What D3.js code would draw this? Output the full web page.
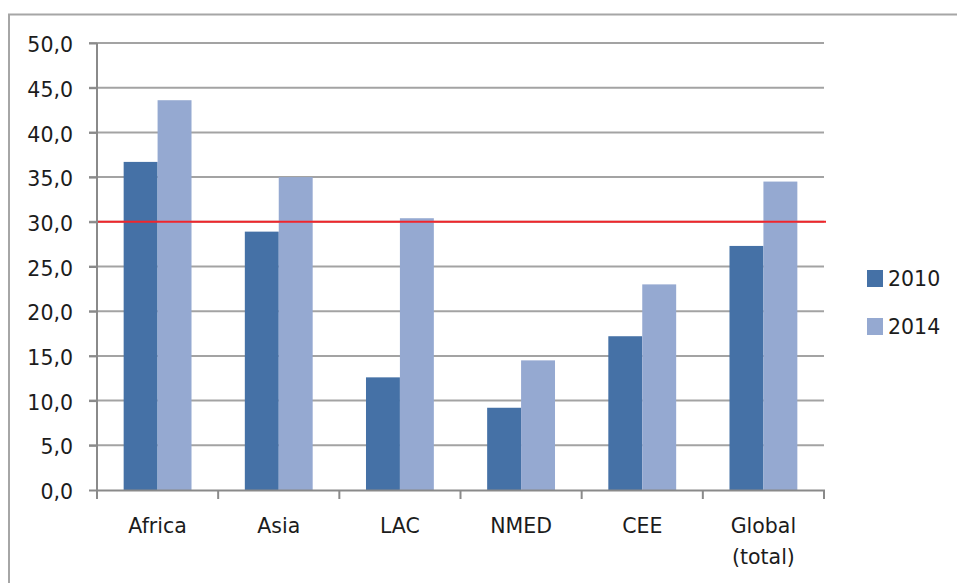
<!DOCTYPE html>
<html>
<head>
<meta charset="utf-8">
<script src="https://cdn.jsdelivr.net/npm/d3@7"></script>
<style>
  body { margin: 0; background: #fff; }
  svg { display: block; font-family: "DejaVu Sans", Verdana, sans-serif; }
</style>
</head>
<body>
<svg id="chart" width="957" height="583"></svg>
<script>
/* DATA */
var categories = ['Africa', 'Asia', 'LAC', 'NMED', 'CEE', 'Global (total)'];
var series = ['2010', '2014'];
var values2010 = [36.7, 28.9, 12.6, 9.2, 17.2, 27.3];
var values2014 = [43.6, 35.0, 30.4, 14.5, 23.0, 34.5];
var yTicks = [0, 5, 10, 15, 20, 25, 30, 35, 40, 45, 50];
var threshold = 30;

var colors = { '2010': '#4571a6', '2014': '#95a9d1' };
var textColor = '#1c1c1c';
var gridColor = '#a3a3a3';
var fontSize = '20.5px';

var svg = d3.select('#chart');

/* OUTER FRAME (top and left edges visible) */
svg.append('path')
  .attr('d', 'M9,583 V14.5 H957')
  .attr('fill', 'none')
  .attr('stroke', '#a6a6a6')
  .attr('stroke-width', 2);

/* SCALES */
var y = d3.scaleLinear().domain([0, 50]).range([490, 43]);
var x = d3.scaleBand().domain(categories).range([97, 824]);
var x1 = d3.scaleBand().domain(series)
  .range([x.bandwidth() * 0.22, x.bandwidth() * 0.78]);

/* GRIDLINES */
svg.append('g').selectAll('line')
  .data(yTicks.filter(function(d) { return d > 0; }))
  .enter().append('line')
  .attr('x1', 89).attr('x2', 824)
  .attr('y1', function(d) { return y(d); })
  .attr('y2', function(d) { return y(d); })
  .attr('stroke', gridColor)
  .attr('stroke-width', 2);

/* BARS */
var rows = categories.map(function(c, i) {
  return { cat: c, vals: [{ s: '2010', v: values2010[i] }, { s: '2014', v: values2014[i] }] };
});
svg.append('g').selectAll('g')
  .data(rows).enter().append('g')
  .attr('transform', function(d) { return 'translate(' + x(d.cat) + ',0)'; })
  .selectAll('rect')
  .data(function(d) { return d.vals; })
  .enter().append('rect')
  .attr('x', function(d) { return x1(d.s); })
  .attr('width', x1.bandwidth())
  .attr('y', function(d) { return y(d.v); })
  .attr('height', function(d) { return y(0) - y(d.v); })
  .attr('fill', function(d) { return colors[d.s]; });

/* RED THRESHOLD LINE */
svg.append('line')
  .attr('x1', 97).attr('x2', 826)
  .attr('y1', y(threshold)).attr('y2', y(threshold))
  .attr('stroke', '#f0262b')
  .attr('stroke-width', 2);

/* Y AXIS */
var yAxis = d3.axisLeft(y).tickValues(yTicks).tickSize(8).tickPadding(16)
  .tickFormat(function(d) { return d3.format('.1f')(d).replace('.', ','); });
var gy = svg.append('g').attr('transform', 'translate(97,0)').call(yAxis);
gy.select('.domain').attr('stroke', '#8a8a8a').attr('stroke-width', 2)
  .attr('d', 'M0,' + y(50) + 'V' + (y(0) + 1));
gy.selectAll('.tick line').attr('stroke', '#8a8a8a').attr('stroke-width', 2);
gy.selectAll('.tick text')
  .attr('fill', textColor)
  .style('font-size', fontSize)
  .style('font-family', '"DejaVu Sans", Verdana, sans-serif')
  .attr('dy', '0.42em');

/* X AXIS */
var xLine = svg.append('g');
xLine.append('line')
  .attr('x1', 96).attr('x2', 825)
  .attr('y1', y(0) + 0.5).attr('y2', y(0) + 0.5)
  .attr('stroke', '#8a8a8a').attr('stroke-width', 2);
var bounds = categories.map(function(c) { return x(c); }).concat([x.range()[1]]);
xLine.selectAll('line.tk')
  .data(bounds).enter().append('line')
  .attr('class', 'tk')
  .attr('x1', function(d) { return d; }).attr('x2', function(d) { return d; })
  .attr('y1', y(0)).attr('y2', y(0) + 9)
  .attr('stroke', '#8a8a8a').attr('stroke-width', 2);

var xl = svg.append('g').selectAll('text')
  .data(categories).enter().append('text')
  .attr('x', function(d) { return x(d) + x.bandwidth() / 2; })
  .attr('y', 533)
  .attr('text-anchor', 'middle')
  .attr('fill', textColor)
  .style('font-size', fontSize);
xl.each(function(d) {
  var parts = d === 'Global (total)' ? ['Global', '(total)'] : [d];
  var t = d3.select(this);
  parts.forEach(function(p, i) {
    t.append('tspan')
      .attr('x', x(d) + x.bandwidth() / 2)
      .attr('dy', i === 0 ? 0 : 31)
      .text(p);
  });
});

/* LEGEND */
var legend = svg.append('g').selectAll('g')
  .data(series).enter().append('g')
  .attr('transform', function(d, i) { return 'translate(867,' + (270 + i * 48) + ')'; });
legend.append('rect')
  .attr('width', 16).attr('height', 17)
  .attr('fill', function(d) { return colors[d]; });
legend.append('text')
  .attr('x', 21).attr('y', 16)
  .attr('fill', textColor)
  .style('font-size', fontSize)
  .text(function(d) { return d; });
</script>
</body>
</html>
